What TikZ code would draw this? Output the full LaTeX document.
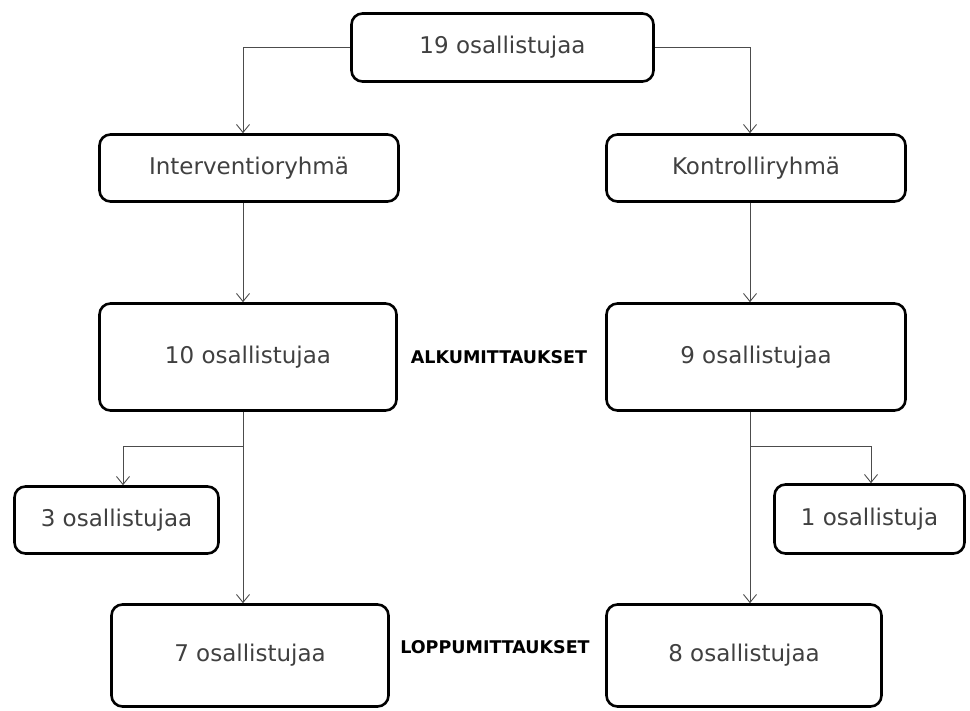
\documentclass[tikz,border=0pt]{standalone}
\usepackage{fontspec}
\setmainfont{DejaVu Sans}
\usetikzlibrary{arrows.meta}
\begin{document}
\begin{tikzpicture}[x=1pt, y=-1pt, >={Straight Barb[length=8pt,width=13pt]},
    box/.style={draw, line width=2.6pt, rounded corners=11pt, inner sep=0pt,
        text=black!75, font=\fontsize{23}{27}\selectfont},
    vaihe/.style={font=\bfseries\fontsize{17.5}{20}\selectfont},
    nuoli/.style={->, black!70, line width=0.9pt}]
\useasboundingbox (0,0) rectangle (970,711);
% laatikot
\node[box, minimum width=302pt, minimum height=68pt] (kaikki) at (502.5,47.5) {19 osallistujaa};
\node[box, minimum width=299pt, minimum height=67pt] (int) at (249,168) {Interventioryhmä};
\node[box, minimum width=299pt, minimum height=67pt] (kon) at (756,168) {Kontrolliryhmä};
\node[box, minimum width=297pt, minimum height=107pt] (n10) at (248,357) {10 osallistujaa};
\node[box, minimum width=299pt, minimum height=107pt] (n9) at (756,357) {9 osallistujaa};
\node[box, minimum width=204pt, minimum height=67pt] (n3) at (116.5,520) {3 osallistujaa};
\node[box, minimum width=190pt, minimum height=69pt] (n1) at (869.5,519) {1 osallistuja};
\node[box, minimum width=277pt, minimum height=102pt] (n7) at (250,655.5) {7 osallistujaa};
\node[box, minimum width=275pt, minimum height=102pt] (n8) at (744,655.5) {8 osallistujaa};
\node[vaihe] (alku) at (499,357) {ALKUMITTAUKSET};
\node[vaihe] (loppu) at (495,647) {LOPPUMITTAUKSET};
% nuolet
\coordinate (vasen) at (243,0);
\coordinate (oikea) at (750,0);
\coordinate (haara1) at (243,446);
\coordinate (haara2) at (750,446);
\draw[nuoli] (kaikki.west) -| (int.north -| vasen);
\draw[nuoli] (kaikki.east) -| (kon.north -| oikea);
\draw[nuoli] (int.south -| vasen) -- (n10.north -| vasen);
\draw[nuoli] (kon.south -| oikea) -- (n9.north -| oikea);
\draw[nuoli] (n10.south -| vasen) -- (n7.north -| vasen);
\draw[nuoli] (n9.south -| oikea) -- (n8.north -| oikea);
\draw[nuoli] (haara1) -| ([xshift=6.5pt]n3.north);
\draw[nuoli] (haara2) -| ([xshift=1.5pt]n1.north);
\end{tikzpicture}
\end{document}
